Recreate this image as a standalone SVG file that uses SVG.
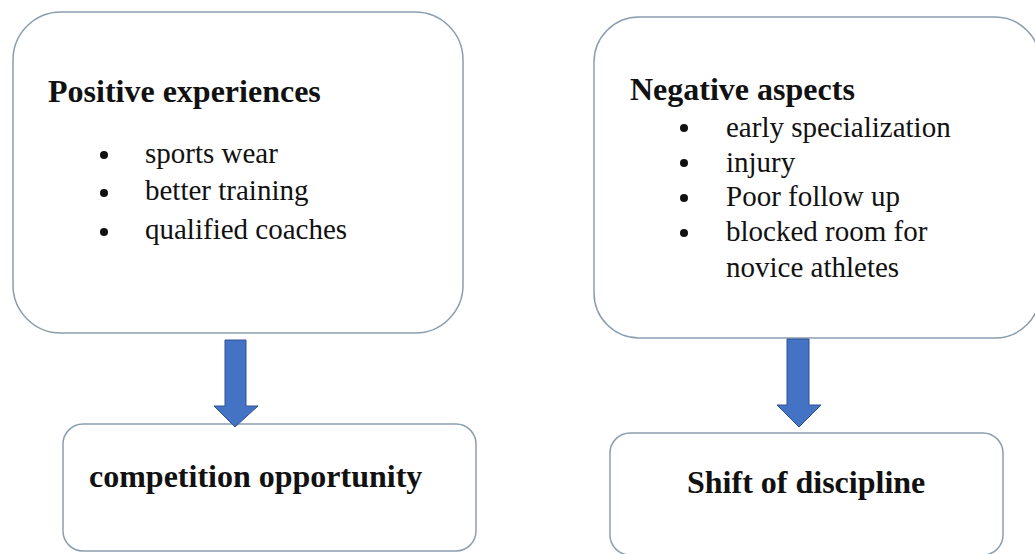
<svg xmlns="http://www.w3.org/2000/svg" width="1035" height="554" viewBox="0 0 1035 554">
<style>
.box{fill:#ffffff;stroke:#8a9eae;stroke-width:1.5}
.h{font-family:"Liberation Serif","Times New Roman",serif;font-weight:bold;font-size:32px;fill:#111}
.t{font-family:"Liberation Serif","Times New Roman",serif;font-size:29px;fill:#111}
.b{fill:#111}
.arrow{fill:#4472c4;stroke:#2f528f;stroke-width:1}
</style>
<rect width="1035" height="554" fill="#ffffff"/>
<g id="positive">
<rect class="box" x="13" y="12" width="450" height="321" rx="48" ry="48"/>
<text class="h" x="48" y="102">Positive experiences</text>
<circle class="b" cx="104" cy="155" r="4"/>
<circle class="b" cx="104" cy="193" r="4"/>
<circle class="b" cx="104" cy="232" r="4"/>
<text class="t" x="145" y="163">sports wear</text>
<text class="t" x="145" y="200">better training</text>
<text class="t" x="145" y="239">qualified coaches</text>
</g>
<g id="negative">
<rect class="box" x="594" y="17" width="446" height="321" rx="45" ry="45"/>
<text class="h" x="630" y="100">Negative aspects</text>
<circle class="b" cx="684" cy="128" r="4"/>
<circle class="b" cx="684" cy="163" r="4"/>
<circle class="b" cx="684" cy="198" r="4"/>
<circle class="b" cx="684" cy="233" r="4"/>
<text class="t" x="726" y="137">early specialization</text>
<text class="t" x="726" y="172">injury</text>
<text class="t" x="726" y="206">Poor follow up</text>
<text class="t" x="726" y="241">blocked room for</text>
<text class="t" x="726" y="277">novice athletes</text>
</g>
<g id="competition">
<rect class="box" x="63" y="424" width="413" height="127" rx="20" ry="20"/>
<text class="h" x="89" y="487">competition opportunity</text>
</g>
<g id="shift">
<rect class="box" x="610" y="433" width="393" height="122" rx="20" ry="20"/>
<text class="h" x="687" y="493">Shift of discipline</text>
</g>
<g id="connectors">
<polygon class="arrow" points="225,340 246,340 246,406 258,406 235,427 214,406 225,406"/>
<polygon class="arrow" points="787,339 809,339 809,405 821,405 799,427 777,405 787,405"/>
</g>
</svg>
